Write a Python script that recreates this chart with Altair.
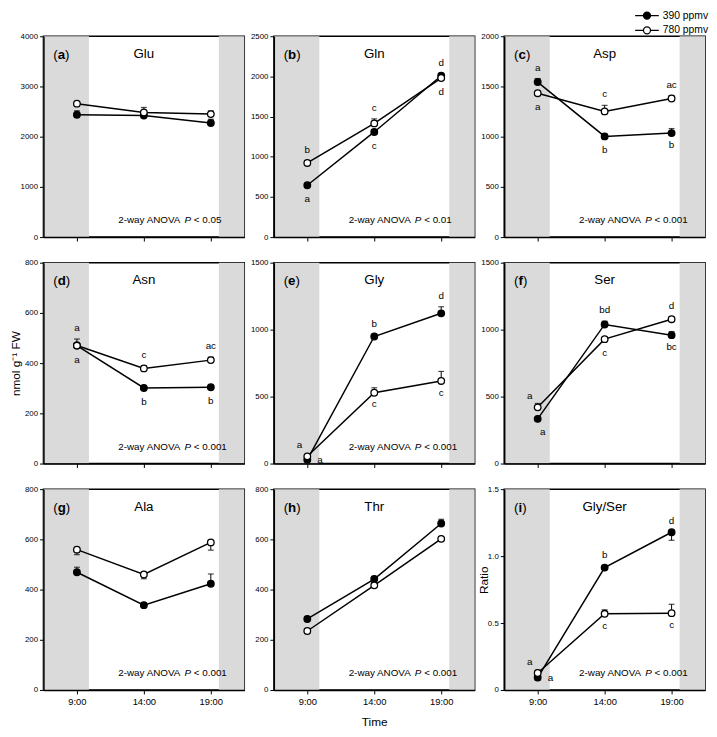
import altair as alt
import pandas as pd

# ---------------- data ----------------
times = [9, 14, 19]
time_labels = ["9:00", "14:00", "19:00"]
series = ["390 ppmv", "780 ppmv"]

panel_names = ["Glu", "Gln", "Asp", "Asn", "Gly", "Ser", "Ala", "Thr", "Gly/Ser"]
panel_tags = ["a", "b", "c", "d", "e", "f", "g", "h", "i"]
y_max = [4000, 2500, 2000, 800, 1500, 1500, 800, 800, 1.5]
y_step = [1000, 500, 500, 200, 500, 500, 200, 200, 0.5]
anova_p = ["< 0.05", "< 0.01", "< 0.001", "< 0.001", "< 0.001", "", "< 0.001", "< 0.001", "< 0.001"]

# light period shading (hours)
shade_start = [6.5, 19.6]
shade_end = [9.9, 21.5]

# means at 9:00, 14:00, 19:00 and signed error bars
glu_390 = [2436, 2423, 2273]; glu_390_se = [80, 30, 75]
glu_780 = [2658, 2482, 2450]; glu_780_se = [40, 100, 65]
gln_390 = [646, 1309, 2008]; gln_390_se = [-20, -25, 30]
gln_780 = [923, 1415, 1980]; gln_780_se = [25, 57, -25]
asp_390 = [1544, 1003, 1036]; asp_390_se = [35, -20, 45]
asp_780 = [1433, 1252, 1380]; asp_780_se = [-20, 60, 30]
asn_390 = [470, 301, 304]; asn_390_se = [-10, -8, -8]
asn_780 = [470, 379, 412]; asn_780_se = [26, 10, 12]
gly_390 = [29, 949, 1122]; gly_390_se = [-10, 15, 49]
gly_780 = [54, 529, 617]; gly_780_se = [10, 37, 71]
ser_390 = [334, 1039, 959]; ser_390_se = [-15, 24, 27]
ser_780 = [420, 929, 1078]; ser_780_se = [29, -15, 15]
ala_390 = [469, 338, 423]; ala_390_se = [20, -8, 39]
ala_780 = [559, 460, 588]; ala_780_se = [-20, -17, -31]
thr_390 = [283, 442, 663]; thr_390_se = [8, 10, 17]
thr_780 = [235, 417, 602]; thr_780_se = [-8, -8, -8]
ratio_390 = [0.093, 0.914, 1.178]; ratio_390_se = [-0.02, 0.015, -0.06]
ratio_780 = [0.127, 0.569, 0.574]; ratio_780_se = [0.02, 0.03, 0.066]

# significance letters: (time index, series index, letter, placement)
sig_gln = [(0, 1, "b", "N"), (0, 0, "a", "S"), (1, 1, "c", "N"), (1, 0, "c", "S"), (2, 0, "d", "N"), (2, 1, "d", "S")]
sig_asp = [(0, 0, "a", "N"), (0, 1, "a", "S"), (1, 1, "c", "N"), (1, 0, "b", "S"), (2, 1, "ac", "N"), (2, 0, "b", "S")]
sig_asn = [(0, 1, "a", "N"), (0, 0, "a", "S"), (1, 1, "c", "N"), (1, 0, "b", "S"), (2, 1, "ac", "N"), (2, 0, "b", "S")]
sig_gly = [(0, 1, "a", "NW"), (0, 0, "a", "E"), (1, 0, "b", "N"), (1, 1, "c", "S"), (2, 0, "d", "N"), (2, 1, "c", "S")]
sig_ser = [(0, 1, "a", "NW"), (0, 0, "a", "SE"), (1, 0, "bd", "N"), (1, 1, "c", "S"), (2, 1, "d", "N"), (2, 0, "bc", "S")]
sig_ratio = [(0, 1, "a", "NW"), (0, 0, "a", "E"), (1, 0, "b", "N"), (1, 1, "c", "S"), (2, 0, "d", "N"), (2, 1, "c", "S")]

panel_values = [
    (glu_390, glu_390_se, glu_780, glu_780_se, []),
    (gln_390, gln_390_se, gln_780, gln_780_se, sig_gln),
    (asp_390, asp_390_se, asp_780, asp_780_se, sig_asp),
    (asn_390, asn_390_se, asn_780, asn_780_se, sig_asn),
    (gly_390, gly_390_se, gly_780, gly_780_se, sig_gly),
    (ser_390, ser_390_se, ser_780, ser_780_se, sig_ser),
    (ala_390, ala_390_se, ala_780, ala_780_se, []),
    (thr_390, thr_390_se, thr_780, thr_780_se, []),
    (ratio_390, ratio_390_se, ratio_780, ratio_780_se, sig_ratio),
]

# ---------------- styling ----------------
FONT = "Liberation Sans"
W, H = 204, 204
GRAY = "#dadada"
PLACE = {"N": (0, -11), "S": (0, 12), "NW": (-8, -11), "E": (13, 0), "SE": (5, 13)}

ARIAL = {'2': 556, '-': 333, 'w': 722, 'a': 556, 'y': 500, ' ': 278, 'A': 667,
         'N': 722, 'O': 778, 'V': 667, 'P': 667, '(': 333, ')': 333}
BOLD = {'a': 556, 'b': 611, 'c': 556, 'd': 611, 'e': 556, 'f': 333, 'g': 611, 'h': 611, 'i': 278}


def tw(s, size):
    return sum(ARIAL[c] for c in s) * size / 1000.0


LEG_PATH = ("M-2,0L-0.6,0M0.6,0L2,0"
            "M-0.6,0A0.6,0.6,0,1,1,0.6,0A0.6,0.6,0,1,1,-0.6,0Z")

legend = alt.Legend(title=None, orient="none", legendX=606, legendY=-28,
                    symbolType=LEG_PATH, symbolSize=144, symbolStrokeColor="black",
                    symbolStrokeWidth=1.3, labelFontSize=10.5, labelFont=FONT,
                    labelColor="black", labelOffset=9, rowPadding=1, padding=0,
                    direction="vertical")

x_label_expr = " : ".join(
    f"datum.value == {t} ? '{lab}'" for t, lab in zip(times[:-1], time_labels[:-1])
) + f" : '{time_labels[-1]}'"


def make_panel(i):
    v390, s390, v780, s780, sig = panel_values[i]
    row = i // 3
    ymax, step = y_max[i], y_step[i]

    rows = []
    for sname, vals, ses in ((series[0], v390, s390), (series[1], v780, s780)):
        for t, v, e in zip(times, vals, ses):
            rows.append({"series": sname, "time": t, "value": v, "end": v + e})
    df = pd.DataFrame(rows)

    xaxis = alt.Axis(values=times, labelExpr=x_label_expr, labels=(row == 2),
                     title=("Time" if i == 7 else None), tickSize=4, labelFontSize=9.5,
                     titleFontSize=12, titlePadding=11, labelFlush=False, zindex=1,
                     domainWidth=1.5, tickWidth=1, labelPadding=3)
    ticks = [round(k * step, 3) for k in range(int(round(ymax / step)) + 1)]
    yargs = dict(values=ticks, labelFontSize=8, tickSize=4, labelFlush=False, zindex=1,
                 domainWidth=1.5, tickWidth=1, labelPadding=2, titleFontSize=12, titlePadding=2)
    if i == 8:
        yargs.update(labelExpr="datum.value == 0 ? '0' : format(datum.value, '.1f')",
                     title="Ratio", titleX=-14, titleY=92)
    elif i == 3:
        yargs.update(format="d", title="nmol g\u207b\u00b9 FW")
    else:
        yargs.update(format="d", title=None)
    yaxis = alt.Axis(**yargs)

    xs = alt.Scale(domain=[6.5, 21.5], nice=False, zero=False)
    ys = alt.Scale(domain=[0, ymax], nice=False)

    shade = alt.Chart(pd.DataFrame({"start": shade_start, "stop": shade_end})).mark_rect(
        color=GRAY).encode(x=alt.X("start:Q", scale=xs, axis=xaxis), x2="stop:Q")

    base = alt.Chart(df)
    X = alt.X("time:Q", scale=xs, axis=xaxis)
    bars = base.mark_rule(color="black", strokeWidth=1).encode(
        x=X, y=alt.Y("value:Q", scale=ys, axis=yaxis), y2="end:Q")
    caps = base.mark_tick(orient="horizontal", color="black", thickness=1.2, size=6).encode(
        x=X, y=alt.Y("end:Q", scale=ys, axis=yaxis))
    line = base.mark_line(color="black", strokeWidth=1.5).encode(
        x=X, y=alt.Y("value:Q", scale=ys, axis=yaxis), detail="series:N")
    pts = base.mark_point(filled=True, shape="circle", size=45, stroke="black",
                          strokeWidth=1.3, opacity=1).encode(
        x=X, y=alt.Y("value:Q", scale=ys, axis=yaxis),
        fill=alt.Fill("series:N", scale=alt.Scale(domain=series, range=["black", "white"]),
                      legend=legend))

    layers = [shade, bars, caps, line, pts]

    # significance letters
    if sig:
        srows = []
        for ti, si, lab, place in sig:
            vals, ses = (v390, s390) if si == 0 else (v780, s780)
            v, e = vals[ti], ses[ti]
            if place == "N":
                anchor = v + max(e, 0)
            elif place == "S":
                anchor = v + min(e, 0)
            else:
                anchor = v
            srows.append({"time": times[ti], "anchor": anchor, "label": lab, "place": place})
        sdf = pd.DataFrame(srows)
        for place, (dx, dy) in PLACE.items():
            sub = sdf[sdf.place == place]
            if len(sub) == 0:
                continue
            layers.append(alt.Chart(sub).mark_text(
                fontSize=10, dx=dx, dy=dy, color="black", baseline="middle", align="center").encode(
                x=X, y=alt.Y("anchor:Q", scale=ys, axis=yaxis), text="label:N"))

    # panel tag "(a)" with bold letter, and compound name
    tag = panel_tags[i]
    tsize = 13.5
    x0 = 10
    x1 = x0 + tw("(", tsize)
    x2 = x1 + BOLD[tag] * tsize / 1000.0
    for txt, xp, wt in (("(", x0, "normal"), (tag, x1, "bold"), (")", x2, "normal")):
        layers.append(alt.Chart(pd.DataFrame({"t": [txt]})).mark_text(
            fontSize=tsize, fontWeight=wt, align="left", baseline="middle", color="black").encode(
            x=alt.value(xp), y=alt.value(19), text="t:N"))
    layers.append(alt.Chart(pd.DataFrame({"t": [panel_names[i]]})).mark_text(
        fontSize=13.5, align="center", baseline="middle", color="black").encode(
        x=alt.value(W / 2), y=alt.value(18), text="t:N"))

    # ANOVA note with italic P
    if anova_p[i]:
        asz = 10
        ax0 = 76
        pieces = [("2-way ANOVA", ax0, "normal"),
                  ("P", ax0 + tw("2-way ANOVA ", asz), "italic"),
                  (anova_p[i], ax0 + tw("2-way ANOVA P ", asz), "normal")]
        for txt, xp, st in pieces:
            layers.append(alt.Chart(pd.DataFrame({"t": [txt]})).mark_text(
                fontSize=asz, fontStyle=st, align="left", baseline="middle", color="black").encode(
                x=alt.value(xp), y=alt.value(H - 17), text="t:N"))

    return alt.layer(*layers).properties(width=W, height=H)


panels = [make_panel(i) for i in range(9)]

chart = alt.concat(*panels, columns=3, spacing={"row": 26, "column": 30}, bounds="flush").properties(
    padding={"left": 0, "top": -5, "right": 0, "bottom": 0}
).configure(font=FONT).configure_view(
    stroke="black", strokeWidth=1.5
).configure_axis(
    labelColor="black", tickColor="black", domainColor="black", titleColor="black",
    grid=False, titleFontWeight="normal", labelFont=FONT, titleFont=FONT
)

chart.save("out.html", embed_options={"renderer": "svg", "actions": False})
